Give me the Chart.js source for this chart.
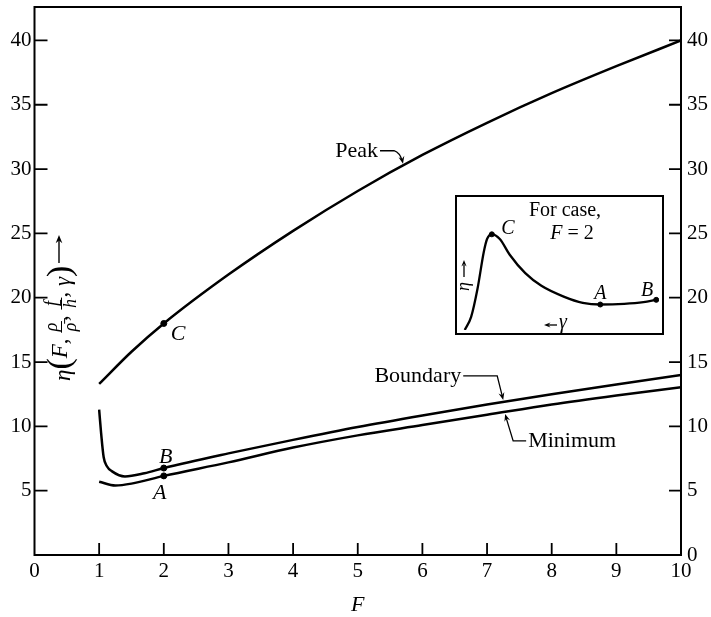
<!DOCTYPE html>
<html><head><meta charset="utf-8">
<script src="https://cdn.jsdelivr.net/npm/chart.js@4/dist/chart.umd.min.js"></script>
<style>
html,body{margin:0;padding:0;background:#fff;}
#wrap{position:relative;width:711px;height:617px;}
#main{position:absolute;left:0;top:0;}
#inset{position:absolute;left:455px;top:195px;}
</style>
</head><body>
<div id="wrap"><canvas id="main" width="711" height="617"></canvas><canvas id="inset" width="209" height="140"></canvas></div>
<script>
// ---- data ----
const xTickValues = [0,1,2,3,4,5,6,7,8,9,10];
const yTickValues = [0,5,10,15,20,25,30,35,40];

const peakF   = [1, 1.5, 2, 3, 4, 5, 6, 7, 8, 9, 10];
const peakEta = [13.3, 15.8, 18.0, 21.8, 25.2, 28.3, 31.1, 33.6, 35.9, 38.0, 40.0];

const boundaryF   = [1, 1.03, 1.07, 1.12, 1.2, 1.4, 1.7, 2, 3, 4, 5, 6, 7, 8, 9, 10];
const boundaryEta = [11.3, 9.5, 7.6, 6.9, 6.5, 6.1, 6.35, 6.76, 7.9, 8.95, 9.95, 10.85, 11.7, 12.5, 13.25, 14.0];

const minimumF   = [1, 1.25, 1.5, 2, 3, 4, 5, 6, 7, 8, 9, 10];
const minimumEta = [5.7, 5.4, 5.55, 6.15, 7.2, 8.35, 9.3, 10.1, 10.9, 11.7, 12.4, 13.05];

const markLabels = ['C', 'B', 'A'];
const markF      = [2, 2, 2];
const markEta    = [18.0, 6.76, 6.15];

// inset: eta vs gamma for case F = 2 (relative units, 0-100)
const insetGamma = [2.4, 5.6, 8.8, 12.0, 13.6, 16.0, 20.0, 24.9, 32.8, 40.9, 52.1, 61.7, 70.5, 82.5, 92.2, 98.6];
const insetEta   = [0, 10.1, 31.7, 60.4, 70.0, 73.6, 70.0, 58.1, 43.7, 34.0, 25.7, 20.9, 19.6, 20.1, 21.4, 23.2];
const insetMarkLabels = ['C', 'A', 'B'];
const insetMarkGamma  = [16.0, 70.5, 98.6];
const insetMarkEta    = [73.6, 19.6, 23.2];

const SERIF = '"Liberation Serif", "DejaVu Serif", "Times New Roman", serif';

function pts(xs, ys){ return xs.map((v,i)=>({x:v, y:ys[i]})); }
function interp(xs, ys, v){
  for (let i=0;i<xs.length-1;i++){
    if (v>=xs[i] && v<=xs[i+1]) return ys[i] + (ys[i+1]-ys[i])*(v-xs[i])/(xs[i+1]-xs[i]);
  }
  return ys[ys.length-1];
}
function arrowHead(ctx, fx, fy, tx, ty, size){
  const ang = Math.atan2(ty-fy, tx-fx);
  ctx.beginPath();
  ctx.moveTo(tx, ty);
  ctx.lineTo(tx - size*Math.cos(ang-0.38), ty - size*Math.sin(ang-0.38));
  ctx.lineTo(tx - size*0.6*Math.cos(ang), ty - size*0.6*Math.sin(ang));
  ctx.lineTo(tx - size*Math.cos(ang+0.38), ty - size*Math.sin(ang+0.38));
  ctx.closePath();
  ctx.fill();
}
function noPad(s){ s.paddingTop = 0; s.paddingBottom = 0; s.paddingLeft = 0; s.paddingRight = 0; }

const mainDeco = {
  id: 'mainDeco',
  afterDraw(chart){
    const {ctx, chartArea:a, scales:{x, y}} = chart;
    ctx.save();
    ctx.strokeStyle = '#000'; ctx.fillStyle = '#000';
    ctx.lineWidth = 2;
    ctx.strokeRect(a.left, a.top, a.right-a.left, a.bottom-a.top);
    // inward ticks
    ctx.lineWidth = 1.8;
    ctx.beginPath();
    yTickValues.forEach(v=>{
      if (v===0) return;
      const py = y.getPixelForValue(v);
      ctx.moveTo(a.left, py); ctx.lineTo(a.left+13, py);
      ctx.moveTo(a.right, py); ctx.lineTo(a.right-12, py);
    });
    xTickValues.forEach(v=>{
      if (v===0 || v===10) return;
      const px = x.getPixelForValue(v);
      ctx.moveTo(px, a.bottom); ctx.lineTo(px, a.bottom-12);
    });
    ctx.stroke();

    // x title
    ctx.font = 'italic 22px ' + SERIF;
    ctx.textAlign = 'center'; ctx.textBaseline = 'middle';
    ctx.fillText('F', x.getPixelForValue(5), 605);

    // point letters
    ctx.font = 'italic 22px ' + SERIF;
    const cP = {x:x.getPixelForValue(markF[0]), y:y.getPixelForValue(markEta[0])};
    const bP = {x:x.getPixelForValue(markF[1]), y:y.getPixelForValue(markEta[1])};
    const aP = {x:x.getPixelForValue(markF[2]), y:y.getPixelForValue(markEta[2])};
    ctx.textAlign = 'left';
    ctx.fillText(markLabels[0], cP.x+7, cP.y+11);
    ctx.textAlign = 'center';
    ctx.fillText(markLabels[1], bP.x+2, bP.y-11);
    ctx.fillText(markLabels[2], aP.x-4, aP.y+17);

    // annotations
    ctx.font = '22px ' + SERIF;
    ctx.lineWidth = 1.3;
    // Peak
    let fP = 5.7;
    let t = {x:x.getPixelForValue(fP), y:y.getPixelForValue(interp(peakF, peakEta, fP))-2};
    ctx.textAlign = 'right';
    ctx.fillText('Peak', t.x-25, t.y-13);
    ctx.beginPath();
    ctx.moveTo(t.x-23, t.y-13); ctx.lineTo(t.x-9, t.y-13);
    ctx.quadraticCurveTo(t.x-3, t.y-11, t.x-1, t.y-3);
    ctx.stroke();
    arrowHead(ctx, t.x-2, t.y-9, t.x, t.y, 8);
    // Boundary
    fP = 7.25;
    t = {x:x.getPixelForValue(fP), y:y.getPixelForValue(interp(boundaryF, boundaryEta, fP))-2};
    ctx.fillText('Boundary', t.x-42, t.y-24);
    ctx.beginPath();
    ctx.moveTo(t.x-40, t.y-24); ctx.lineTo(t.x-6, t.y-24); ctx.lineTo(t.x-1, t.y-4);
    ctx.stroke();
    arrowHead(ctx, t.x-6, t.y-24, t.x, t.y, 8);
    // Minimum
    fP = 7.28;
    t = {x:x.getPixelForValue(fP), y:y.getPixelForValue(interp(minimumF, minimumEta, fP))+2};
    ctx.textAlign = 'left';
    ctx.fillText('Minimum', t.x+23, t.y+27);
    ctx.beginPath();
    ctx.moveTo(t.x+21, t.y+27); ctx.lineTo(t.x+8, t.y+27); ctx.lineTo(t.x+1, t.y+4);
    ctx.stroke();
    arrowHead(ctx, t.x+8, t.y+27, t.x, t.y, 8);

    // y-axis label (inside plot, rotated)
    ctx.save();
    ctx.translate(61, 381);
    ctx.rotate(-Math.PI/2);
    ctx.textAlign = 'left'; ctx.textBaseline = 'middle';
    let cx = 0;
    const put = (s, font, dy=0) => { ctx.font = font; ctx.fillText(s, cx, dy); cx += ctx.measureText(s).width; };
    const frac = (n, d) => {
      ctx.font = 'italic 18px ' + SERIF;
      const w = Math.max(ctx.measureText(n).width, ctx.measureText(d).width) + 3;
      ctx.textAlign = 'center';
      ctx.fillText(n, cx + w/2, -9);
      ctx.fillText(d, cx + w/2, 10);
      ctx.textAlign = 'left';
      ctx.lineWidth = 1; ctx.beginPath(); ctx.moveTo(cx, 0.5); ctx.lineTo(cx+w, 0.5); ctx.stroke();
      cx += w;
    };
    put('\u03B7', 'italic 23px ' + SERIF, 3);
    put('(', '34px ' + SERIF);
    put('F', 'italic 23px ' + SERIF);
    put(', ', '23px ' + SERIF);
    frac('\u03C1', '\u03C1\u0304');
    put(', ', '23px ' + SERIF);
    frac('f', 'h\u0304');
    put(', ', '23px ' + SERIF);
    put('\u03B3', 'italic 23px ' + SERIF, 3);
    put(')', '34px ' + SERIF);
    ctx.restore();
    // arrow next to y label
    ctx.lineWidth = 1.4;
    ctx.beginPath(); ctx.moveTo(59, 263); ctx.lineTo(59, 240); ctx.stroke();
    arrowHead(ctx, 59, 250, 59, 235, 9);
    ctx.restore();
  }
};

new Chart(document.getElementById('main'), {
  type: 'line',
  data: { datasets: [
    {label:'Peak', data: pts(peakF, peakEta), borderColor:'#000', borderWidth:2.5, pointRadius:0, cubicInterpolationMode:'monotone'},
    {label:'Boundary', data: pts(boundaryF, boundaryEta), borderColor:'#000', borderWidth:2.5, pointRadius:0, cubicInterpolationMode:'monotone'},
    {label:'Minimum', data: pts(minimumF, minimumEta), borderColor:'#000', borderWidth:2.5, pointRadius:0, cubicInterpolationMode:'monotone'},
    {label:'Points', data: pts(markF, markEta), showLine:false, pointRadius:3, pointBackgroundColor:'#000', pointBorderColor:'#000'}
  ]},
  options: {
    responsive:false, animation:false,
    layout:{padding:{top:7, left:0, right:0, bottom:0}},
    plugins:{legend:{display:false}, tooltip:{enabled:false}},
    scales:{
      x:{type:'linear', min:0, max:10, position:'bottom',
         grid:{display:false, drawTicks:false}, border:{display:false},
         ticks:{stepSize:1, includeBounds:false, color:'#000', padding:4, font:{family:SERIF, size:21}, maxRotation:0},
         afterBuildTicks(s){ s.ticks = xTickValues.map(v=>({value:v})); },
         afterFit(s){ s.height = 62; noPad(s); }},
      y:{type:'linear', min:0, max:42.6, position:'left',
         grid:{display:false, drawTicks:false}, border:{display:false},
         ticks:{stepSize:5, includeBounds:false, color:'#000', padding:3, font:{family:SERIF, size:21}, callback:v=> v===0 ? '' : String(v)},
         afterBuildTicks(s){ s.ticks = yTickValues.map(v=>({value:v})); },
         afterFit(s){ s.width = 34.5; noPad(s); }},
      y2:{type:'linear', min:0, max:42.6, position:'right',
         grid:{display:false, drawTicks:false}, border:{display:false},
         ticks:{stepSize:5, includeBounds:false, color:'#000', padding:6, font:{family:SERIF, size:21}},
         afterBuildTicks(s){ s.ticks = yTickValues.map(v=>({value:v})); },
         afterFit(s){ s.width = 30; noPad(s); }}
    }
  },
  plugins:[mainDeco]
});

const insetDeco = {
  id:'insetDeco',
  afterDraw(chart){
    const {ctx, scales:{x, y}} = chart;
    ctx.save();
    ctx.strokeStyle='#000'; ctx.fillStyle='#000';
    ctx.lineWidth = 2;
    ctx.strokeRect(1, 1, 207, 138);
    ctx.textBaseline = 'middle'; ctx.textAlign = 'center';
    ctx.font = '20px ' + SERIF;
    ctx.fillText('For case,', 110, 16);
    // F = 2
    ctx.font = 'italic 20px ' + SERIF;
    const wF = ctx.measureText('F').width;
    ctx.font = '20px ' + SERIF;
    const wR = ctx.measureText(' = 2').width;
    let sx = 117 - (wF + wR)/2;
    ctx.textAlign = 'left';
    ctx.font = 'italic 20px ' + SERIF; ctx.fillText('F', sx, 39);
    ctx.font = '20px ' + SERIF; ctx.fillText(' = 2', sx + wF, 39);
    // point letters
    ctx.font = 'italic 20px ' + SERIF;
    ctx.textAlign = 'center';
    const c = {x:x.getPixelForValue(insetMarkGamma[0]), y:y.getPixelForValue(insetMarkEta[0])};
    const a = {x:x.getPixelForValue(insetMarkGamma[1]), y:y.getPixelForValue(insetMarkEta[1])};
    const b = {x:x.getPixelForValue(insetMarkGamma[2]), y:y.getPixelForValue(insetMarkEta[2])};
    ctx.fillText(insetMarkLabels[0], c.x+16, c.y-6);
    ctx.fillText(insetMarkLabels[1], a.x, a.y-11);
    ctx.fillText(insetMarkLabels[2], b.x-9, b.y-9);
    // gamma arrow label
    ctx.font = 'italic 20px ' + SERIF;
    ctx.textAlign = 'left';
    ctx.fillText('\u03B3', 104, 128);
    ctx.lineWidth = 1.3;
    ctx.beginPath(); ctx.moveTo(102, 130); ctx.lineTo(92, 130); ctx.stroke();
    arrowHead(ctx, 98, 130, 89, 130, 7);
    // eta rotated with arrow
    ctx.save();
    ctx.translate(9, 96);
    ctx.rotate(-Math.PI/2);
    ctx.font = 'italic 18px ' + SERIF;
    ctx.textAlign = 'left';
    ctx.fillText('\u03B7', 0, 0);
    ctx.restore();
    ctx.beginPath(); ctx.moveTo(9, 82); ctx.lineTo(9, 70); ctx.stroke();
    arrowHead(ctx, 9, 76, 9, 65, 7);
    ctx.restore();
  }
};

new Chart(document.getElementById('inset'), {
  type:'line',
  data:{datasets:[
    {data: pts(insetGamma, insetEta), borderColor:'#000', borderWidth:2.3, pointRadius:0, cubicInterpolationMode:'monotone'},
    {data: pts(insetMarkGamma, insetMarkEta), showLine:false, pointRadius:2.5, pointBackgroundColor:'#000', pointBorderColor:'#000'}
  ]},
  options:{
    responsive:false, animation:false,
    layout:{padding:0},
    plugins:{legend:{display:false}, tooltip:{enabled:false}},
    scales:{
      x:{type:'linear', display:false, min:0, max:100},
      y:{type:'linear', display:false, min:0, max:100}
    }
  },
  plugins:[insetDeco]
});
</script>
</body></html>
